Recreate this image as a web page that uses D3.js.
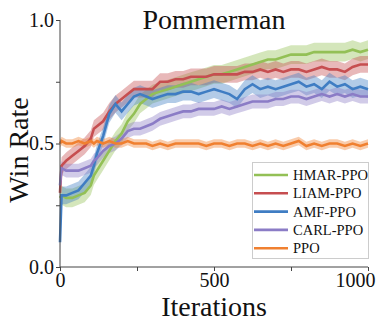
<!DOCTYPE html>
<html><head><meta charset="utf-8">
<script src="https://cdn.jsdelivr.net/npm/d3@7/dist/d3.min.js"></script>
<style>body{margin:0;background:#fff}svg{display:block}svg text{font-family:"Liberation Serif","Times New Roman",serif !important}</style>
</head><body><svg id="c" width="376" height="322"></svg>
<script>
const iterations = [0,5,20,40,60,80,100,110,120,140,160,180,200,220,240,260,280,300,325,350,375,400,425,450,475,500,525,550,575,600,625,650,675,700,725,750,775,800,825,850,875,900,925,950,975,1000];
const hmar = [0.28,0.29,0.28,0.28,0.29,0.30,0.33,0.37,0.39,0.43,0.47,0.51,0.54,0.59,0.62,0.66,0.68,0.70,0.71,0.72,0.73,0.74,0.75,0.76,0.77,0.78,0.78,0.79,0.80,0.81,0.82,0.83,0.84,0.84,0.85,0.86,0.86,0.86,0.87,0.87,0.87,0.87,0.87,0.88,0.87,0.88];
const liam = [0.30,0.41,0.43,0.45,0.47,0.49,0.52,0.56,0.57,0.59,0.63,0.66,0.68,0.70,0.72,0.72,0.72,0.72,0.75,0.75,0.76,0.76,0.77,0.77,0.77,0.78,0.78,0.78,0.78,0.79,0.79,0.80,0.79,0.80,0.79,0.80,0.80,0.79,0.80,0.81,0.80,0.80,0.79,0.81,0.82,0.82];
const amf = [0.10,0.29,0.29,0.30,0.31,0.34,0.37,0.41,0.46,0.53,0.62,0.66,0.63,0.66,0.69,0.70,0.69,0.68,0.69,0.70,0.70,0.71,0.71,0.70,0.71,0.72,0.71,0.70,0.68,0.72,0.74,0.72,0.73,0.72,0.73,0.74,0.75,0.73,0.74,0.72,0.75,0.73,0.74,0.72,0.73,0.72];
const carl = [0.33,0.40,0.39,0.39,0.39,0.40,0.41,0.43,0.44,0.47,0.49,0.50,0.52,0.55,0.56,0.56,0.57,0.58,0.60,0.61,0.62,0.63,0.63,0.64,0.64,0.64,0.65,0.64,0.65,0.66,0.67,0.67,0.67,0.68,0.68,0.69,0.69,0.68,0.69,0.70,0.69,0.70,0.69,0.70,0.69,0.69];
const ppo = [0.50,0.51,0.50,0.50,0.51,0.50,0.51,0.50,0.51,0.50,0.51,0.50,0.50,0.51,0.50,0.50,0.50,0.49,0.50,0.49,0.50,0.50,0.50,0.50,0.49,0.50,0.50,0.49,0.50,0.50,0.49,0.50,0.49,0.50,0.49,0.50,0.51,0.49,0.50,0.49,0.50,0.50,0.49,0.50,0.49,0.50];
const seriesNames = ["HMAR-PPO","LIAM-PPO","AMF-PPO","CARL-PPO","PPO"];
const seriesValues = [hmar, liam, amf, carl, ppo];
const seriesSpread = [0.038, 0.034, 0.036, 0.028, 0.017];
const seriesColors = ["#93c056","#c64e50","#3f7dc3","#8b7cc6","#f08030"];
const xMajorTicks = [0,500,1000];
const xMinorTicks = [250,750];
const yMajorTicks = [0,0.5,1.0];
const yMinorTicks = [0.25,0.75];

const FONT = '"Liberation Serif","Times New Roman",serif';
const svg = d3.select("#c");
const L=60, R=368, T=20, B=267;
const x = d3.scaleLinear().domain([0,1000]).range([L,R]);
const y = d3.scaleLinear().domain([0,1]).range([B,T]);

const gPlot = svg.append("g");
const order = [0,1,2,3,4];
order.forEach(i=>{
  const vals = seriesValues[i], s = seriesSpread[i];
  const data = iterations.map((it,k)=>({it, v:vals[k]}));
  gPlot.append("path").datum(data)
    .attr("d", d3.area().x(d=>x(d.it)).y0(d=>y(d.v-s)).y1(d=>y(d.v+s)))
    .attr("fill", seriesColors[i]).attr("fill-opacity",0.4).attr("stroke","none");
});
order.forEach(i=>{
  const vals = seriesValues[i];
  const data = iterations.map((it,k)=>({it, v:vals[k]}));
  gPlot.append("path").datum(data)
    .attr("d", d3.line().x(d=>x(d.it)).y(d=>y(d.v)))
    .attr("fill","none").attr("stroke", seriesColors[i]).attr("stroke-width",2.6);
});

const axisColor = "#444";
const yAxis = svg.append("g").attr("transform",`translate(${L},0)`)
  .call(d3.axisLeft(y).tickValues(yMajorTicks).tickFormat(d3.format(".1f")).tickSize(4).tickPadding(2));
svg.append("g").attr("transform",`translate(${L},0)`)
  .call(d3.axisLeft(y).tickValues(yMinorTicks).tickFormat("").tickSize(4)).select(".domain").remove();
const xAxis = svg.append("g").attr("transform",`translate(0,${B})`)
  .call(d3.axisBottom(x).tickValues(xMajorTicks).tickFormat(d3.format("d")).tickSize(4).tickPadding(2));
svg.append("g").attr("transform",`translate(0,${B})`)
  .call(d3.axisBottom(x).tickValues(xMinorTicks).tickFormat("").tickSize(4)).select(".domain").remove();
yAxis.select(".domain").attr("d", `M0,${T}V${B}`);
xAxis.select(".domain").attr("d", `M${L},0H${R}`);
svg.selectAll("g").attr("font-family", FONT);
svg.selectAll(".tick line, .domain").attr("stroke", axisColor).attr("stroke-width",1);
svg.selectAll(".tick text").attr("font-size",20).attr("fill","#111").style("font-family",FONT);
xAxis.selectAll(".tick text").filter(d=>d===1000).attr("text-anchor","end").attr("x",375-x(1000));

svg.append("text").attr("x",214).attr("y",29).attr("text-anchor","middle").attr("font-size",28).attr("fill","#111").text("Pommerman");
svg.append("text").attr("x",214).attr("y",316).attr("text-anchor","middle").attr("font-size",28).attr("fill","#111").text("Iterations");
svg.append("text").attr("transform","translate(28,150) rotate(-90)").attr("text-anchor","middle").attr("font-size",28).attr("fill","#111").text("Win Rate");

const lg = svg.append("g");
lg.append("rect").attr("x",252.5).attr("y",162.5).attr("width",116).attr("height",96)
  .attr("fill","#fff").attr("fill-opacity",0.85).attr("stroke","#ccc").attr("stroke-width",1);
seriesNames.forEach((n,i)=>{
  const yy = 175 + i*18.3;
  lg.append("line").attr("x1",254).attr("x2",288).attr("y1",yy).attr("y2",yy).attr("stroke",seriesColors[i]).attr("stroke-width",2.6);
  lg.append("text").attr("x",293).attr("y",yy+5).attr("font-size",14.5).attr("fill","#111").text(n);
});
</script></body></html>
